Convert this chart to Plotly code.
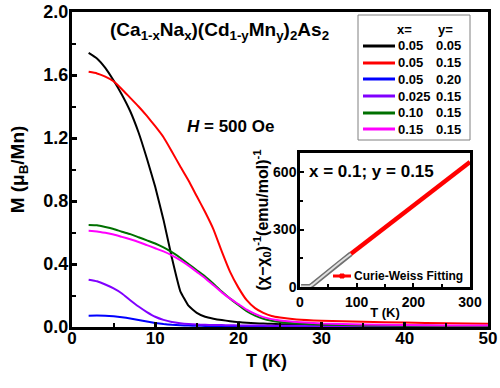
import plotly.graph_objects as go

# ---------------- data ----------------
T = [2, 3, 4, 5, 6, 7, 8, 9, 10, 11, 12, 13, 14, 15, 16, 17, 18, 19, 20,
     21, 22, 23, 24, 25, 27, 30, 35, 40, 45, 50]

M_005_005 = [1.74, 1.705, 1.645, 1.565, 1.475, 1.37, 1.235, 1.07, 0.89, 0.68, 0.44, 0.23, 0.135, 0.09, 0.065,
             0.053, 0.044, 0.037, 0.031, 0.027, 0.024, 0.022, 0.020, 0.018, 0.016, 0.013, 0.010, 0.008, 0.007, 0.006]
M_005_015 = [1.62, 1.61, 1.59, 1.56, 1.51, 1.455, 1.40, 1.34, 1.275, 1.205, 1.115, 1.02, 0.93, 0.83, 0.73,
             0.62, 0.48, 0.35, 0.25, 0.17, 0.12, 0.09, 0.07, 0.06, 0.048, 0.040, 0.033, 0.028, 0.024, 0.021]
M_005_020 = [0.072, 0.073, 0.072, 0.068, 0.062, 0.054, 0.045, 0.035, 0.026, 0.019, 0.014, 0.011, 0.009, 0.008, 0.007,
             0.0065, 0.006, 0.0055, 0.005, 0.005, 0.0045, 0.0045, 0.004, 0.004, 0.004, 0.0035, 0.0035, 0.003, 0.003, 0.003]
M_0025_015 = [0.30, 0.29, 0.27, 0.245, 0.213, 0.17, 0.13, 0.095, 0.065, 0.045, 0.032, 0.024, 0.019, 0.016, 0.014,
              0.013, 0.012, 0.011, 0.010, 0.0095, 0.009, 0.0088, 0.0085, 0.008, 0.0075, 0.007, 0.006, 0.0055, 0.005, 0.005]
M_010_015 = [0.648, 0.646, 0.635, 0.622, 0.605, 0.59, 0.57, 0.55, 0.53, 0.505, 0.475, 0.44, 0.40, 0.36, 0.32,
             0.275, 0.225, 0.18, 0.14, 0.10, 0.072, 0.052, 0.040, 0.032, 0.022, 0.015, 0.010, 0.008, 0.007, 0.006]
M_015_015 = [0.611, 0.607, 0.598, 0.587, 0.572, 0.557, 0.54, 0.52, 0.50, 0.48, 0.455, 0.425, 0.39, 0.35, 0.31,
             0.265, 0.22, 0.18, 0.145, 0.11, 0.083, 0.063, 0.050, 0.042, 0.032, 0.023, 0.016, 0.012, 0.010, 0.009]

series_M = [M_005_005, M_005_015, M_005_020, M_0025_015, M_010_015, M_015_015]
x_labels = ["0.05", "0.05", "0.05", "0.025", "0.10", "0.15"]
y_labels = ["0.05", "0.15", "0.20", "0.15", "0.15", "0.15"]
colors = ["#000000", "#ff0000", "#0000ff", "#8000ff", "#007000", "#ff00ff"]

# inset: inverse susceptibility
T_inset = [2, 10, 18, 22, 30, 50, 70, 90]
chi_inv_data = [3, 3, 4, 12, 32, 80, 128, 174]
T_fit = [90, 300]
chi_inv_fit = [174, 653]

x_ticks_main = [0, 10, 20, 30, 40, 50]
y_ticks_main = [0.0, 0.4, 0.8, 1.2, 1.6, 2.0]
x_ticks_inset = [0, 100, 200, 300]
y_ticks_inset = [0, 300, 600]

# ---------------- figure ----------------
W, H = 500, 388
L, R, TOP, B = 72, 12, 12, 61
PW, PH = W - L - R, H - TOP - B


def px(xp):
    return (xp - L) / PW


def py(yp):
    return (H - B - yp) / PH


FONT = "Liberation Sans, Arial, sans-serif"

fig = go.Figure()
for m, c in zip(series_M, colors):
    fig.add_trace(go.Scatter(x=T, y=m, mode="lines", line=dict(color=c, width=2, shape="spline", smoothing=0.4),
                             showlegend=False, xaxis="x", yaxis="y"))

# inset traces
fig.add_trace(go.Scatter(x=T_inset, y=chi_inv_data, mode="lines", line=dict(color="#707070", width=5),
                         showlegend=False, xaxis="x2", yaxis="y2"))
fig.add_trace(go.Scatter(x=T_inset, y=chi_inv_data, mode="lines", line=dict(color="#e0e0e0", width=2),
                         showlegend=False, xaxis="x2", yaxis="y2"))
fig.add_trace(go.Scatter(x=T_fit, y=chi_inv_fit, mode="lines", line=dict(color="#ff0000", width=4.5),
                         showlegend=False, xaxis="x2", yaxis="y2"))

axis_common = dict(showline=True, linecolor="black", mirror=True, ticks="inside", automargin=False,
                   showgrid=False, zeroline=False, tickcolor="black")

fig.update_layout(
    template="none",
    width=W, height=H,
    margin=dict(l=L, r=R, t=TOP, b=B, autoexpand=False),
    paper_bgcolor="white", plot_bgcolor="white",
    font=dict(family=FONT, color="black"),
    xaxis=dict(domain=[0, 1], range=[0, 50], tickvals=x_ticks_main, linewidth=3, tickwidth=2.5, ticklen=5,
               tickfont=dict(size=17, family=FONT, weight="bold"), ticklabelstandoff=-6,
               minor=dict(dtick=5, ticks="inside", ticklen=4, tickwidth=2, tickcolor="black"),
               **axis_common),
    yaxis=dict(domain=[0, 1], range=[0, 2.0], tickvals=y_ticks_main, ticktext=[f"{v:.1f}" for v in y_ticks_main],
               linewidth=3, tickwidth=2.5, ticklen=5,
               tickfont=dict(size=18, family=FONT, weight="bold"), ticklabelstandoff=-3,
               minor=dict(dtick=0.2, ticks="inside", ticklen=4, tickwidth=2, tickcolor="black"),
               title=dict(text="M (μ<sub>B</sub>/Mn)", font=dict(size=19, family=FONT, weight="bold"), standoff=14),
               **axis_common),
    xaxis2=dict(domain=[px(300), px(470)], range=[0, 300], anchor="y2", tickvals=x_ticks_inset,
                linewidth=2.5, tickwidth=2, ticklen=4,
                tickfont=dict(size=14, family=FONT, weight="bold"),
                minor=dict(dtick=50, ticks="inside", ticklen=3, tickwidth=1.5, tickcolor="black"),
                title=dict(text="T (K)", font=dict(size=13, family=FONT, weight="bold"), standoff=0),
                **axis_common),
    yaxis2=dict(domain=[py(287), py(153)], range=[0, 700], anchor="x2", tickvals=y_ticks_inset,
                linewidth=2.5, tickwidth=2, ticklen=4,
                tickfont=dict(size=14, family=FONT, weight="bold"), ticklabelstandoff=-2,
                minor=dict(dtick=150, ticks="inside", ticklen=3, tickwidth=1.5, tickcolor="black"),
                title=dict(text="(χ−χ<sub>0</sub>)<sup>-1</sup>(emu/mol)<sup>-1</sup>",
                           font=dict(size=16, family=FONT, weight="bold"), standoff=0),
                **axis_common),
)

bold = dict(family=FONT, color="black", weight="bold")
ann = []


def add_text(xp, yp, text, size, xanchor="center"):
    ann.append(dict(x=px(xp), y=py(yp), xref="paper", yref="paper", showarrow=False,
                    xanchor=xanchor, yanchor="middle", text=text, font=dict(size=size, **bold)))


add_text(219, 31, "(Ca<sub>1-x</sub>Na<sub>x</sub>)(Cd<sub>1-y</sub>Mn<sub>y</sub>)<sub>2</sub>As<sub>2</sub>", 19)
add_text(230, 126, "<i>H</i> = 500 Oe", 17)
add_text(307, 171, "x = 0.1; y = 0.15", 17, "left")
add_text(266, 361, "T (K)", 18)

shapes = []
# legend box
shapes.append(dict(type="rect", xref="paper", yref="paper", x0=px(358), x1=px(470), y0=py(140), y1=py(15),
                   line=dict(color="#808080", width=1), fillcolor="rgba(0,0,0,0)"))
add_text(404, 29, "x=", 13)
add_text(445, 29, "y=", 13)
row_y = [46, 63, 79, 96, 113, 129]
for yy, xl, yl, c in zip(row_y, x_labels, y_labels, colors):
    shapes.append(dict(type="line", xref="paper", yref="paper", x0=px(363), x1=px(395), y0=py(yy), y1=py(yy),
                       line=dict(color=c, width=3)))
    add_text(396, yy, xl, 13, "left")
    add_text(434, yy, yl, 13, "left")

# inset legend
shapes.append(dict(type="line", xref="paper", yref="paper", x0=px(333), x1=px(351), y0=py(276), y1=py(276),
                   line=dict(color="#ff0000", width=3)))
shapes.append(dict(type="rect", xref="paper", yref="paper", x0=px(340), x1=px(344), y0=py(278), y1=py(274),
                   line=dict(color="#ff0000", width=1), fillcolor="#ff0000"))
add_text(352, 276, "Curie-Weiss Fitting", 12, "left")

fig.update_layout(annotations=ann, shapes=shapes)
fig.write_html("out.html", config={"displayModeBar": False},
               post_script="document.body.style.margin='0px';")
